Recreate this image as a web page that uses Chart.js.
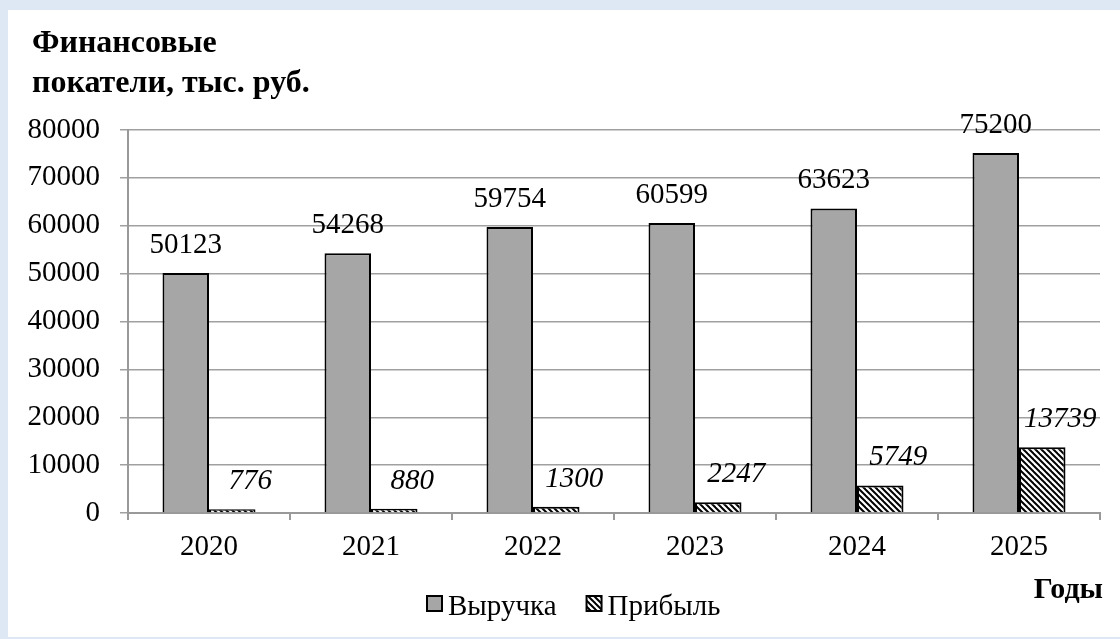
<!DOCTYPE html>
<html>
<head>
<meta charset="utf-8">
<script src="https://cdn.jsdelivr.net/npm/chart.js@4/dist/chart.umd.min.js"></script>
<style>
  html, body { margin: 0; padding: 0; background: #dde8f4; }
  #wrap { position: absolute; left: 8px; top: 10px; width: 1112px; height: 627px; background: #fff; }
</style>
</head>
<body>
<div id="wrap"><canvas id="finChart" width="1112" height="627"></canvas></div>
<script>
const years = ["2020", "2021", "2022", "2023", "2024", "2025"];
const revenue = [50123, 54268, 59754, 60599, 63623, 75200];
const profit = [776, 880, 1300, 2247, 5749, 13739];
const yTicks = [0, 10000, 20000, 30000, 40000, 50000, 60000, 70000, 80000];

const FONT = '"Liberation Serif", "Times New Roman", serif';

// diagonal hatch for "Прибыль"
function hatch() {
  const c = document.createElement("canvas");
  c.width = 6; c.height = 6;
  const g = c.getContext("2d");
  g.fillStyle = "#fff";
  g.fillRect(0, 0, 6, 6);
  g.strokeStyle = "#000";
  g.lineWidth = 2;
  [-6, 0, 6].forEach(k => {
    g.beginPath();
    g.moveTo(k - 1, -1);
    g.lineTo(k + 7, 7);
    g.stroke();
  });
  return g.createPattern(c, "repeat");
}

const ctx = document.getElementById("finChart");
const hatchFill = hatch();

const extras = {
  id: "extras",
  afterDatasetsDraw(chart) {
    const c = chart.ctx;
    c.save();
    c.fillStyle = "#000";
    c.textAlign = "center";
    c.textBaseline = "alphabetic";
    // values over bars
    chart.getDatasetMeta(0).data.forEach((bar, i) => {
      c.font = "29px " + FONT;
      c.fillText(revenue[i], bar.x, bar.y - 20);
    });
    chart.getDatasetMeta(1).data.forEach((bar, i) => {
      c.font = "italic 29px " + FONT;
      c.fillText(profit[i], bar.x + 18, bar.y - 20);
    });

    // title + axis name
    c.textAlign = "left";
    c.font = "bold 32px " + FONT;
    c.fillText("Финансовые", 24, 42);
    c.fillText("покатели, тыс. руб.", 24, 82);
    c.textAlign = "right";
    c.font = "bold 30px " + FONT;
    c.fillText("Годы", 1095, 588);

    // legend
    c.textAlign = "left";
    c.font = "29px " + FONT;
    let x = 419;
    chart.data.datasets.forEach(ds => {
      c.fillStyle = ds.backgroundColor;
      c.fillRect(x, 586, 15, 15);
      c.strokeStyle = "#000";
      c.lineWidth = 2;
      c.strokeRect(x, 586, 15, 15);
      c.fillStyle = "#000";
      c.fillText(ds.label, x + 21, 605);
      x += 21 + c.measureText(ds.label).width + 30;
    });
    c.restore();
  }
};

new Chart(ctx, {
  type: "bar",
  data: {
    labels: years,
    datasets: [
      { label: "Выручка", data: revenue, backgroundColor: "#a6a6a6", borderColor: "#000", borderWidth: 2 },
      { label: "Прибыль", data: profit, backgroundColor: hatchFill, borderColor: "#000", borderWidth: 2 }
    ]
  },
  options: {
    responsive: false,
    animation: false,
    layout: { padding: { left: 0, right: 20, top: 120, bottom: 0 } },
    categoryPercentage: 0.574,
    barPercentage: 1,
    plugins: { legend: { display: false }, tooltip: { enabled: false } },
    scales: {
      x: {
        afterFit: a => { a.height = 124; },
        grid: { drawOnChartArea: false, color: "#999", lineWidth: 2, tickLength: 7, offset: true },
        border: { color: "#999", width: 2 },
        ticks: { color: "#000", padding: 10, font: { family: FONT, size: 29 } }
      },
      y: {
        min: 0, max: 80000,
        afterFit: a => { a.width = 120; },
        afterBuildTicks: a => { a.ticks = yTicks.map(v => ({ value: v })); },
        grid: { color: "#a0a0a0", lineWidth: 1.5, tickLength: 8 },
        border: { color: "#999", width: 2 },
        ticks: { color: "#000", padding: 20, font: { family: FONT, size: 29 }, callback: v => String(v) }
      }
    }
  },
  plugins: [extras]
});
</script>
</body>
</html>
